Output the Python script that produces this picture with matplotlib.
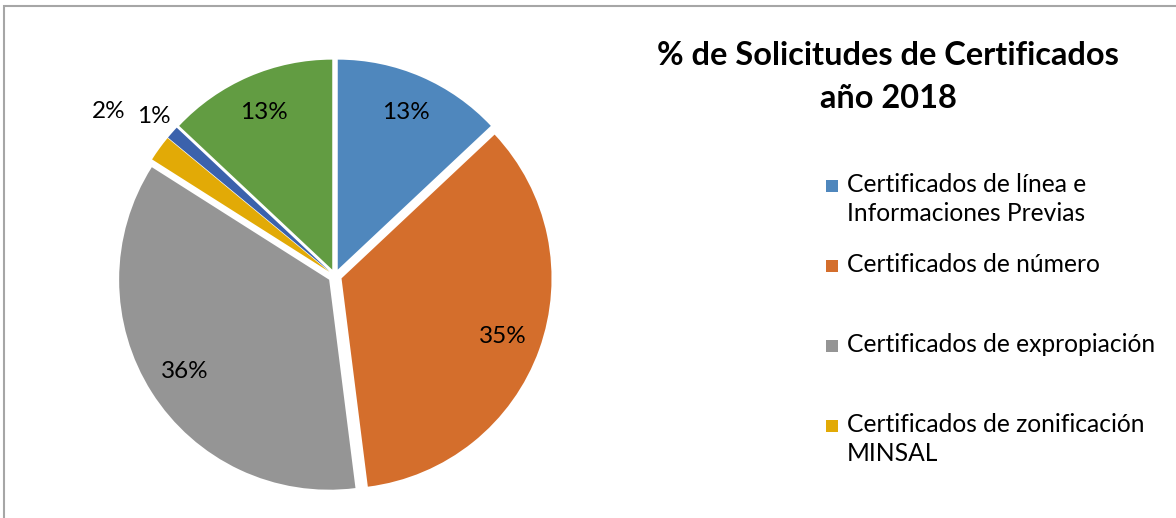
import numpy as np
import matplotlib.pyplot as plt
from matplotlib.patches import Rectangle

# datos
categorias = [
    "Certificados de línea e\nInformaciones Previas",
    "Certificados de número",
    "Certificados de expropiación",
    "Certificados de zonificación\nMINSAL",
    "Otros certificados",
    "Certificados varios",
]
porcentajes = [13, 35, 36, 2, 1, 13]
colores = ["#4F87BD", "#D46E2C", "#959595", "#E2AA06", "#3B62AC", "#629C42"]
n_leyenda = 4  # solo se ven 4 entradas en la leyenda

# distancia de cada etiqueta al centro (las chicas van afuera)
dist_etiquetas = [0.85, 0.85, 0.85, 1.33, 1.15, 0.85]

W, H = 1176, 518
fig = plt.figure(figsize=(W / 100, H / 100), dpi=100)
plt.rcParams['font.family'] = ['Lato', 'DejaVu Sans']

# borde del area del grafico (solo se ve arriba e izquierda)
fig.patches.append(Rectangle((4 / W, -0.1), 1.2, 1.1 - 6 / H, transform=fig.transFigure,
                             fill=False, edgecolor="#A6A6A6", linewidth=1.5))

# ejes del pie: centro en (335, 276) px, radio ~210 px
half = 252
cx, cy = 335, 276
ax = fig.add_axes([(cx - half) / W, (H - cy - half) / H, 2 * half / W, 2 * half / H])
wedges, texts, autotexts = ax.pie(
    porcentajes, colors=colores, startangle=90, counterclock=False,
    explode=[0.033] * len(porcentajes), radius=1.0,
    autopct=lambda p: f"{p:.0f}%", pctdistance=0.85,
    wedgeprops=dict(linewidth=0),
    textprops=dict(fontsize=17.5, color="black"))
ax.set_xlim(-1.2, 1.2)
ax.set_ylim(-1.2, 1.2)
ax.set_aspect('equal')
ax.axis('off')

# reubicar etiquetas segun distancia
for w, t, d in zip(wedges, autotexts, dist_etiquetas):
    ang = np.deg2rad((w.theta1 + w.theta2) / 2)
    t.set_position((d * np.cos(ang), d * np.sin(ang)))
    t.set_ha('center')
    t.set_va('center')

# titulo
fig.text(888 / W, 1 - 77 / H, "% de Solicitudes de Certificados\naño 2018",
         ha='center', va='center', fontsize=23.4, fontweight='bold',
         multialignment='center', linespacing=1.58)

# leyenda manual (entradas alineadas arriba cada 80 px)
for i in range(n_leyenda):
    y = 186 + 80 * i
    fig.patches.append(Rectangle((826 / W, 1 - (y + 6) / H), 12 / W, 12 / H,
                                 transform=fig.transFigure, facecolor=colores[i],
                                 edgecolor='none'))
    fig.text(847 / W, 1 - (y - 13) / H, categorias[i], ha='left', va='top',
             fontsize=17.7, linespacing=1.3)

plt.savefig("out.png", dpi=100)
